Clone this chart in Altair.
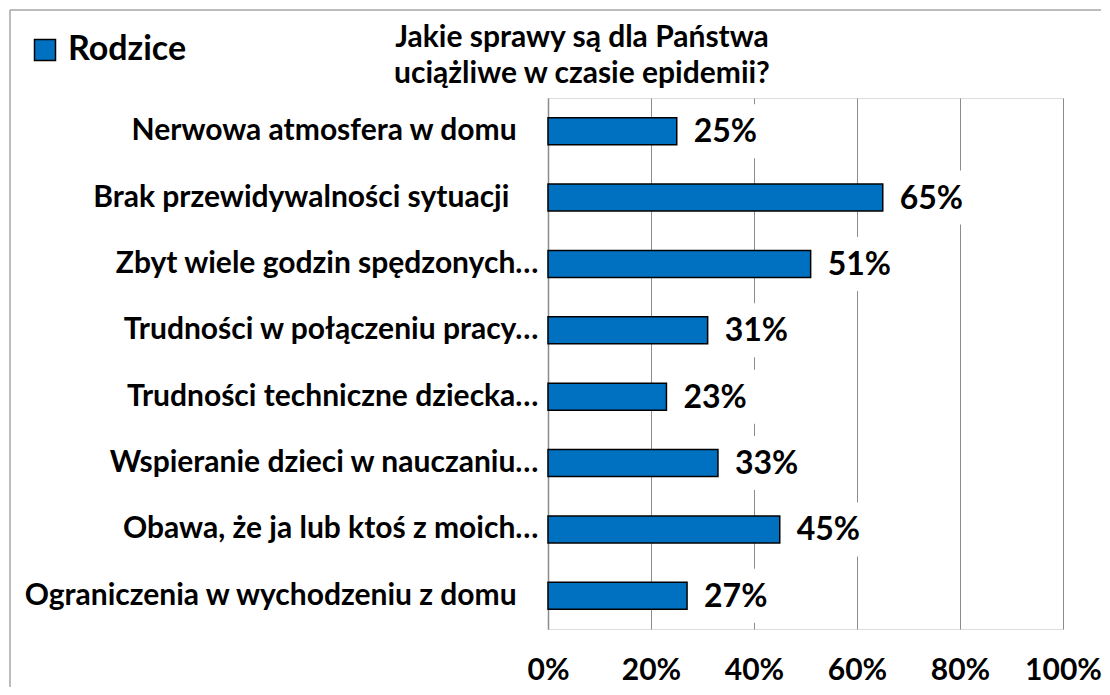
import altair as alt
import pandas as pd

NB = "\u00a0"
WJ = "\u2060"
categories = [
    "Nerwowa atmosfera w domu" + NB * 3 + WJ,
    "Brak przewidywalności sytuacji" + NB * 4 + WJ,
    "Zbyt wiele godzin spędzonych…",
    "Trudności w połączeniu pracy…",
    "Trudności techniczne dziecka…",
    "Wspieranie dzieci w nauczaniu…",
    "Obawa, że ja lub ktoś z moich…",
    "Ograniczenia w wychodzeniu z domu" + NB * 3 + WJ,
]
values = [25, 65, 51, 31, 23, 33, 45, 27]
series_name = "Rodzice"
title_lines = ["Jakie sprawy są dla Państwa", "uciążliwe w czasie epidemii?"]
x_ticks = [0, 20, 40, 60, 80, 100]

df = pd.DataFrame({
    "kategoria": categories,
    "wartosc": values,
    "grupa": [series_name] * len(categories),
})
df["etykieta"] = df["wartosc"].astype(str) + "%"

FONT = "Lato"
BLUE = "#0070C0"
GRID = "#8c8c8c"

y_enc = alt.Y(
    "kategoria:N", sort=categories, title=None,
    scale=alt.Scale(paddingInner=0.593, paddingOuter=0.297),
    axis=alt.Axis(labelFont=FONT, labelFontSize=30, labelFontWeight="bold",
                  labelColor="black", labelPadding=10, labelLimit=0,
                  ticks=False, domainColor=GRID, domainWidth=1.5, grid=False),
)
x_enc = alt.X(
    "wartosc:Q", scale=alt.Scale(domain=[0, 100]), title=None,
    axis=alt.Axis(values=x_ticks, labelExpr="datum.value + '%'",
                  labelFont=FONT, labelFontSize=30, labelFontWeight="bold",
                  labelColor="black", labelBaseline="alphabetic",
                  labelPadding=50, labelFlush=False, labelOverlap=False,
                  ticks=False, tickSize=0, domain=False,
                  grid=True, gridColor=GRID, gridWidth=1),
)

base = alt.Chart(df)

boxes = base.mark_bar(color="white", height=54, xOffset=10, x2Offset=92).encode(
    x=x_enc, x2=alt.X2("wartosc:Q"), y=y_enc,
)

bars = base.mark_bar(stroke="black", strokeWidth=1.5).encode(
    x=x_enc, y=y_enc,
    color=alt.Color(
        "grupa:N",
        scale=alt.Scale(domain=[series_name], range=[BLUE]),
        legend=alt.Legend(title=None, orient="none", legendX=-520, legendY=-65,
                          symbolType="square", symbolSize=441,
                          symbolStrokeColor="black", symbolStrokeWidth=1.5,
                          labelFont=FONT, labelFontSize=34, labelFontWeight="bold",
                          labelColor="black", labelOffset=6, padding=0),
    ),
)

labels = base.mark_text(align="left", baseline="middle", dx=17, dy=1, font=FONT,
                        fontSize=32, fontWeight="bold", color="black").encode(
    x=x_enc, y=y_enc, text="etykieta:N",
)

title = alt.Chart(alt.Data(values=[{}])).mark_text(
    text=title_lines, align="center", baseline="alphabetic", lineHeight=36,
    font=FONT, fontSize=30, fontWeight="bold", color="black",
).encode(x=alt.value(34), y=alt.value(-51))

frame_left = alt.Chart(alt.Data(values=[{}])).mark_rule(
    stroke="#a6a6a6", strokeWidth=1.5
).encode(x=alt.value(-538), y=alt.value(-88), y2=alt.value(589))

frame_top = alt.Chart(alt.Data(values=[{}])).mark_rule(
    stroke="#a6a6a6", strokeWidth=1.5
).encode(y=alt.value(-88), x=alt.value(-538), x2=alt.value(553))

chart = alt.layer(boxes, bars, labels, title, frame_left, frame_top).properties(
    width=515, height=531,
    autosize=alt.AutoSizeParams(type="none"),
    padding={"left": 540, "top": 90, "right": 39, "bottom": 58},
).configure_view(stroke=None).configure(background="white")

chart.save("out.html", embed_options={"renderer": "svg", "actions": False})
